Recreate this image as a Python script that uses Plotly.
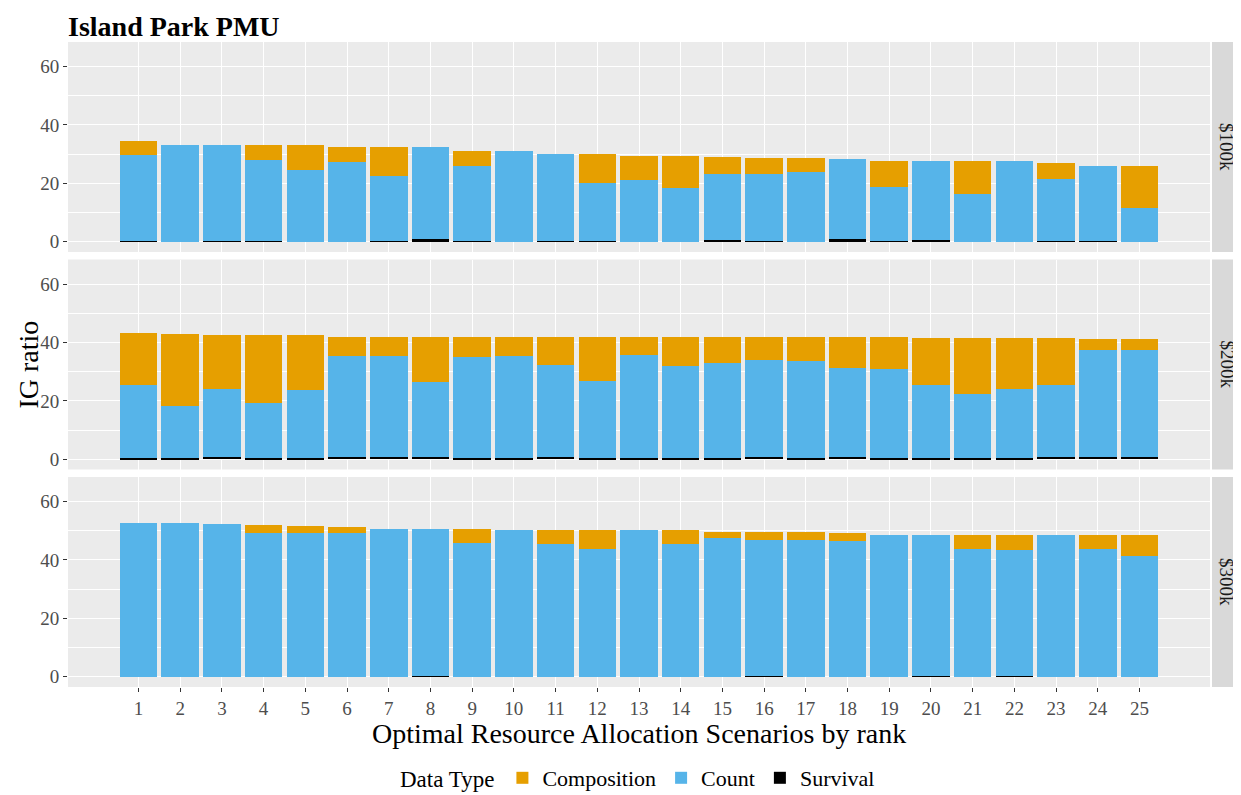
import plotly.graph_objects as go

# ---------------- data ----------------
ranks = list(range(1, 26))
tick_labels = [str(r) for r in ranks]
budgets = ["$100k", "$200k", "$300k"]
series_names = ["Composition", "Count", "Survival"]

composition_100k = [4.9, 0, 0, 5.1, 8.3, 4.9, 9.8, 0, 5.3, 0, 0, 9.8, 8.2, 11.1, 5.8, 5.5, 4.9, 0, 9.0, 0, 11.3, 0, 5.4, 0, 14.3]
count_100k = [29.3, 33.3, 32.9, 27.5, 24.7, 27.4, 22.1, 31.4, 25.5, 31.2, 29.6, 19.8, 21.3, 18.4, 22.8, 22.9, 23.9, 27.2, 18.3, 27.2, 16.4, 27.7, 21.2, 25.6, 11.6]
survival_100k = [0.4, 0, 0.4, 0.4, 0, 0, 0.4, 0.9, 0.4, 0, 0.4, 0.4, 0, 0, 0.5, 0.4, 0, 1.0, 0.4, 0.5, 0, 0, 0.4, 0.4, 0]

composition_200k = [18.0, 24.8, 18.7, 23.0, 18.6, 6.7, 6.5, 15.4, 7.1, 6.8, 9.7, 15.2, 6.2, 9.9, 9.0, 8.0, 7.9, 10.4, 10.8, 16.0, 19.1, 17.2, 16.0, 3.9, 3.9]
count_200k = [25.1, 17.9, 23.2, 19.1, 23.5, 34.5, 34.7, 25.8, 34.6, 34.9, 31.5, 26.5, 35.5, 31.8, 32.7, 33.2, 33.5, 30.5, 30.6, 25.1, 22.0, 23.9, 24.6, 36.5, 36.5]
survival_200k = [0.3, 0.3, 0.8, 0.3, 0.3, 0.8, 0.8, 0.8, 0.3, 0.3, 0.8, 0.3, 0.3, 0.3, 0.3, 0.8, 0.3, 0.8, 0.3, 0.3, 0.3, 0.3, 0.8, 0.8, 0.8]

composition_300k = [0, 0, 0, 2.5, 2.3, 2.1, 0, 0, 4.9, 0, 4.9, 6.6, 0, 4.8, 2.3, 2.7, 2.7, 2.5, 0, 0, 4.8, 5.0, 0, 4.8, 7.1]
count_300k = [52.5, 52.5, 52.2, 49.3, 49.3, 49.3, 50.6, 50.2, 45.7, 50.2, 45.3, 43.6, 50.2, 45.4, 47.4, 46.4, 46.8, 46.6, 48.4, 48.0, 43.6, 43.0, 48.4, 43.6, 41.3]
survival_300k = [0, 0, 0, 0, 0, 0, 0, 0.4, 0, 0, 0, 0, 0, 0, 0, 0.4, 0, 0, 0, 0.4, 0, 0.4, 0, 0, 0]

y_ticks = [0, 20, 40, 60]

# ---------------- style ----------------
colors = {"Composition": "#E69F00", "Count": "#56B4E9", "Survival": "#000000"}
FONT = "Liberation Serif"
OFF = 8                      # page body margin offset
W, H = 1241 - OFF, 795 - OFF
PL, PR, PT, PB = 68, 1210, 42, 687   # plot area in page pixels
L, T = PL - OFF, PT - OFF
R, B = (1241 - PR), (795 - PB)
plot_h = PB - PT
plot_w = PR - PL
panel_h = 210
gap = (plot_h - 3 * panel_h) / 2


def px(x):
    return (x - PL) / plot_w


def py(y):
    return (PB - y) / plot_h


panels = [
    (composition_100k, count_100k, survival_100k),
    (composition_200k, count_200k, survival_200k),
    (composition_300k, count_300k, survival_300k),
]

fig = go.Figure()
for i, (comp, cnt, surv) in enumerate(panels):
    ax = "" if i == 0 else str(i + 1)
    # stacked bottom-to-top: Survival, Count, Composition
    for name, vals in (("Survival", surv), ("Count", cnt), ("Composition", comp)):
        fig.add_trace(go.Bar(
            x=ranks, y=vals, name=name,
            marker=dict(color=colors[name], line=dict(width=0)),
            width=0.9,
            xaxis="x" + ax, yaxis="y" + ax,
            legendgroup=name, showlegend=(i == 0),
            legendrank={"Composition": 1, "Count": 2, "Survival": 3}[name],
        ))

layout = dict(
    width=W, height=H,
    margin=dict(l=L, r=R, t=T, b=B, autoexpand=False),
    barmode="stack",
    paper_bgcolor="white",
    plot_bgcolor="#EBEBEB",
    font=dict(family=FONT, color="#4D4D4D"),
    title=dict(text="<b>Island Park PMU</b>", x=L / W, xanchor="left", xref="container",
               y=1.0, yanchor="top", yref="container", pad=dict(t=8, b=0, l=0, r=0),
               font=dict(family=FONT, size=28, color="black")),
    legend=dict(orientation="h", x=0.5, xanchor="center", y=py(778), yref="paper",
                yanchor="middle",
                title=dict(text="Data Type", side="left", font=dict(size=23, color="#000000", family=FONT)),
                font=dict(size=22, color="#000000", family=FONT),
                itemwidth=30, tracegroupgap=0),
    shapes=[], annotations=[],
)

for i in range(3):
    ax = "" if i == 0 else str(i + 1)
    top = PT + i * (panel_h + gap)
    bot = top + panel_h
    bottom_panel = (i == 2)
    layout["xaxis" + ax] = dict(
        domain=[0, 1], anchor="y" + ax, range=[-0.69, 26.69],
        tickmode="array", tickvals=ranks, ticktext=tick_labels,
        showticklabels=bottom_panel,
        ticks="outside" if bottom_panel else "", ticklen=4, tickcolor="#333333",
        tickfont=dict(size=19, color="#4D4D4D", family=FONT),
        showgrid=True, gridcolor="white", gridwidth=1.2,
        zeroline=False, showline=False, fixedrange=True,
    )
    if i > 0:
        layout["xaxis" + ax]["matches"] = "x"
    layout["yaxis" + ax] = dict(
        domain=[py(bot), py(top)], anchor="x" + ax, range=[-3.5, 68.4],
        tickmode="array", tickvals=y_ticks,
        ticks="outside", ticklen=4, tickcolor="#333333",
        tickfont=dict(size=19, color="#4D4D4D", family=FONT),
        showgrid=True, gridcolor="white", gridwidth=1.4,
        minor=dict(tickvals=[10, 30, 50], showgrid=True, gridcolor="white", gridwidth=0.6, ticks=""),
        zeroline=False, showline=False, fixedrange=True,
    )
    # facet strip
    layout["shapes"].append(dict(
        type="rect", xref="paper", yref="y" + ax + " domain",
        x0=px(1212), x1=px(1245), y0=0, y1=1,
        fillcolor="#D9D9D9", line=dict(width=0), layer="below",
    ))
    layout["annotations"].append(dict(
        text=budgets[i], xref="paper", yref="y" + ax + " domain",
        x=px(1227), y=0.5, showarrow=False, textangle=90,
        font=dict(size=19, color="#1A1A1A", family=FONT),
        xanchor="center", yanchor="middle",
    ))

layout["annotations"].append(dict(
    text="Optimal Resource Allocation Scenarios by rank", xref="paper", yref="paper",
    x=0.5, y=py(733), showarrow=False, xanchor="center", yanchor="middle",
    font=dict(size=28, color="#000000", family=FONT),
))
layout["annotations"].append(dict(
    text="IG ratio", xref="paper", yref="paper",
    x=px(28), y=0.5, showarrow=False, textangle=-90,
    xanchor="center", yanchor="middle",
    font=dict(size=28, color="#000000", family=FONT),
))

fig.update_layout(**layout)
fig.write_html("out.html")
